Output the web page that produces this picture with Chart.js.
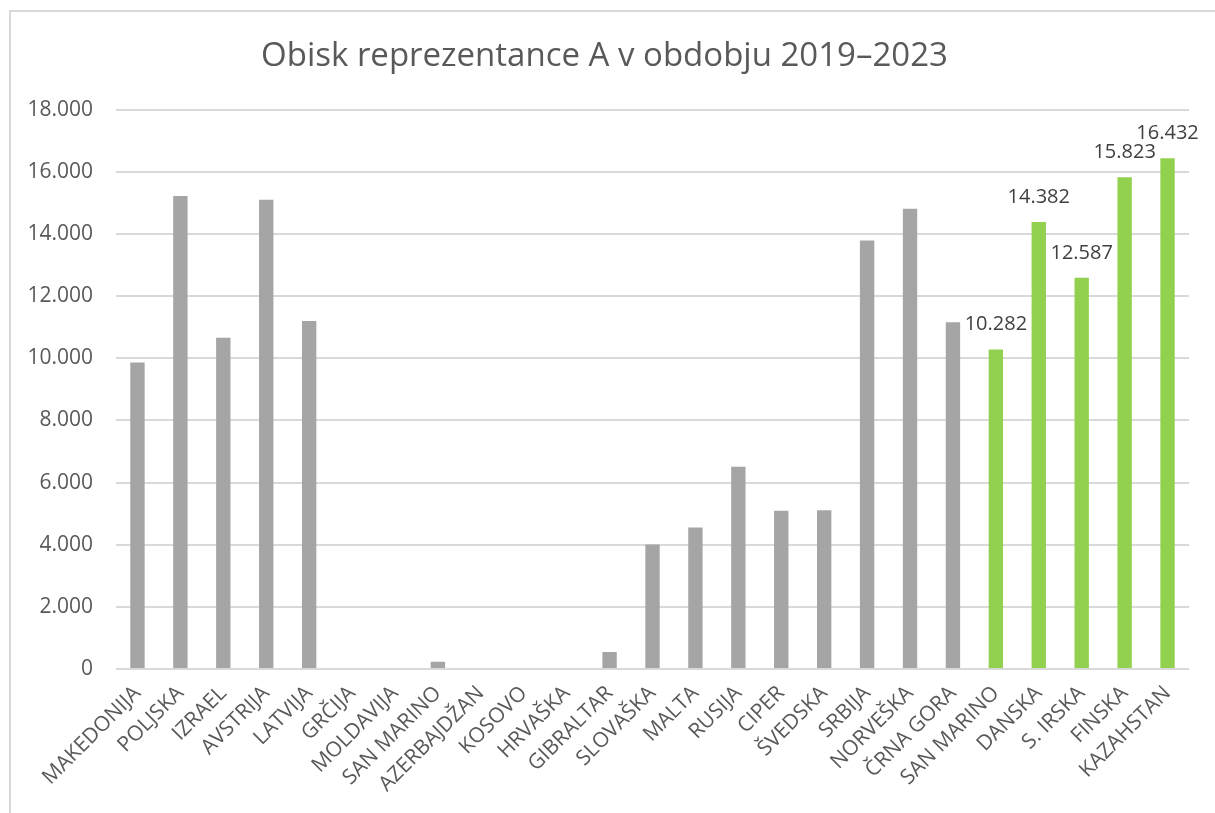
<!DOCTYPE html>
<html>
<head>
<meta charset="utf-8">
<script src="https://cdn.jsdelivr.net/npm/chart.js@4.4.1/dist/chart.umd.min.js"></script>
<style>
  html, body { margin: 0; padding: 0; background: #ffffff; }
  #wrap { position: relative; width: 1215px; height: 813px; overflow: hidden; }
  #frame { position: absolute; left: 9px; top: 10px; width: 1230px; height: 830px;
           border-left: 2px solid #d9d9d9; border-top: 2px solid #d9d9d9; }
  #c { position: absolute; left: 0; top: 0; }
</style>
</head>
<body>
<div id="wrap">
  <div id="frame"></div>
  <canvas id="c" width="1215" height="813"></canvas>
</div>
<script>
const categories = ['MAKEDONIJA', 'POLJSKA', 'IZRAEL', 'AVSTRIJA', 'LATVIJA', 'GRČIJA', 'MOLDAVIJA',
  'SAN MARINO', 'AZERBAJDŽAN', 'KOSOVO', 'HRVAŠKA', 'GIBRALTAR', 'SLOVAŠKA', 'MALTA', 'RUSIJA',
  'CIPER', 'ŠVEDSKA', 'SRBIJA', 'NORVEŠKA', 'ČRNA GORA', 'SAN MARINO', 'DANSKA', 'S. IRSKA',
  'FINSKA', 'KAZAHSTAN'];
const attendance = [9860, 15220, 10660, 15100, 11200, 0, 0, 230, 0, 0, 0, 550, 4010, 4550, 6510,
  5095, 5105, 13790, 14810, 11155, 10282, 14382, 12587, 15823, 16432];
const highlighted = [false, false, false, false, false, false, false, false, false, false, false,
  false, false, false, false, false, false, false, false, false, true, true, true, true, true];
const yTicks = [0, 2000, 4000, 6000, 8000, 10000, 12000, 14000, 16000, 18000];
const titleText = 'Obisk reprezentance A v obdobju 2019–2023';

const GRAY = '#a5a5a5', GREEN = '#92d050', TEXT = '#595959', GRID = '#d9d9d9';
const FONT = "'Open Sans', 'Noto Sans', sans-serif";

function fmt(v) {
  return String(v).replace(/\B(?=(\d{3})+(?!\d))/g, '.');
}

const valueLabels = {
  id: 'valueLabels',
  afterDatasetsDraw(chart) {
    const ctx = chart.ctx;
    const meta = chart.getDatasetMeta(0);
    ctx.save();
    ctx.font = '20px ' + FONT;
    ctx.fillStyle = '#404040';
    ctx.textAlign = 'center';
    ctx.textBaseline = 'middle';
    meta.data.forEach((bar, i) => {
      if (!highlighted[i]) return;
      ctx.fillText(fmt(attendance[i]), bar.x, bar.y - 25);
    });
    ctx.restore();
  }
};

new Chart(document.getElementById('c'), {
  type: 'bar',
  data: {
    labels: categories,
    datasets: [{
      data: attendance,
      backgroundColor: highlighted.map(h => h ? GREEN : GRAY),
      borderWidth: 0,
      barPercentage: 0.335,
      categoryPercentage: 1.0
    }]
  },
  options: {
    responsive: false,
    devicePixelRatio: 1,
    animation: false,
    layout: { padding: { left: 20, right: 26, top: 0, bottom: 0 } },
    plugins: {
      legend: { display: false },
      tooltip: { enabled: false },
      title: {
        display: true,
        text: titleText,
        color: TEXT,
        font: { family: FONT, size: 33, weight: 'normal', lineHeight: 1.2 },
        padding: { top: 37, bottom: 33 }
      }
    },
    scales: {
      y: {
        min: 0,
        max: 18000,
        afterBuildTicks(scale) { scale.ticks = yTicks.map(v => ({ value: v })); },
        afterFit(scale) { scale.width = 96; },
        ticks: {
          color: TEXT,
          font: { family: FONT, size: 21 },
          padding: 23,
          callback: v => fmt(v)
        },
        grid: { color: GRID, lineWidth: 2, drawTicks: false },
        border: { display: false }
      },
      x: {
        afterFit(scale) { scale.height = 144; },
        ticks: {
          color: TEXT,
          font: { family: FONT, size: 21 },
          autoSkip: false,
          maxRotation: 45,
          minRotation: 45,
          padding: 12
        },
        grid: { display: false, drawTicks: false },
        border: { display: false }
      }
    }
  },
  plugins: [valueLabels]
});
</script>
</body>
</html>
